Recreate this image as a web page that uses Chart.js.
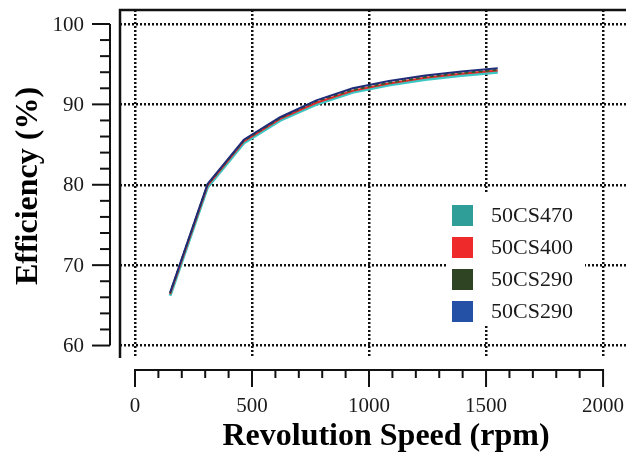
<!DOCTYPE html>
<html>
<head>
<meta charset="utf-8">
<script src="https://cdn.jsdelivr.net/npm/chart.js@4"></script>
<style>
  body { margin: 0; background: #fff; }
  canvas { display: block; }
</style>
</head>
<body>
<canvas id="chart" width="626" height="459"></canvas>
<script>
const rpm = [150, 310, 465, 620, 775, 930, 1085, 1240, 1395, 1550];
const eff470 = [66.2, 79.7, 85.2, 88.0, 90.0, 91.5, 92.4, 93.1, 93.6, 94.0];
const eff400 = [66.4, 79.9, 85.4, 88.2, 90.2, 91.7, 92.6, 93.3, 93.8, 94.2];
const eff290a = [66.5, 80.0, 85.5, 88.3, 90.4, 91.8, 92.7, 93.4, 93.9, 94.3];
const eff290b = [66.6, 80.1, 85.6, 88.4, 90.5, 92.0, 92.9, 93.6, 94.1, 94.5];

const seriesNames = ["50CS470", "50CS400", "50CS290", "50CS290"];
const boxColors = ["#2f9d98", "#ee2a2a", "#2e4422", "#2450a6"];
const lineColors = ["#3cc6c4", "#e8262a", "#3a5a22", "#1f2c78"];

const xTicks = [0, 500, 1000, 1500, 2000];
const yTicks = [60, 70, 80, 90, 100];

const serif = '"Liberation Serif", "Times New Roman", serif';

const toPoints = (vals) => vals.map((v, i) => ({ x: rpm[i], y: v }));

// axes, frame, titles and legend are drawn by hand to get the detached look
const decorations = {
    id: 'decorations',
    afterDraw(chart) {
        const { ctx, chartArea: a, scales: { x, y } } = chart;
        ctx.save();
        ctx.strokeStyle = '#111';
        ctx.fillStyle = '#1a1a1a';
        ctx.lineWidth = 2;

        // frame (left + top)
        ctx.lineWidth = 2.5;
        ctx.beginPath();
        ctx.moveTo(a.left, a.bottom);
        ctx.lineTo(a.left, a.top);
        ctx.lineTo(a.right, a.top);
        ctx.stroke();
        ctx.lineWidth = 2;

        // y axis
        const yx = a.left - 10;
        ctx.beginPath();
        ctx.moveTo(yx, y.getPixelForValue(100));
        ctx.lineTo(yx, y.getPixelForValue(60));
        ctx.stroke();
        for (let v = 60; v <= 100; v += 2) {
            const py = y.getPixelForValue(v);
            const len = v % 10 === 0 ? 18 : 10;
            ctx.beginPath();
            ctx.moveTo(yx - len, py);
            ctx.lineTo(yx, py);
            ctx.stroke();
        }
        ctx.font = '21px ' + serif;
        ctx.textAlign = 'right';
        ctx.textBaseline = 'middle';
        for (let v of yTicks) {
            ctx.fillText(String(v), yx - 26, y.getPixelForValue(v) + 1);
        }

        // x axis
        const xy = 370;
        ctx.beginPath();
        ctx.moveTo(x.getPixelForValue(0), xy);
        ctx.lineTo(x.getPixelForValue(2000), xy);
        ctx.stroke();
        for (let v = 0; v <= 2000; v += 100) {
            const px = x.getPixelForValue(v);
            const len = v % 500 === 0 ? 17 : 8;
            ctx.beginPath();
            ctx.moveTo(px, xy - 1);
            ctx.lineTo(px, xy + len);
            ctx.stroke();
        }
        ctx.textAlign = 'center';
        for (let v of xTicks) {
            ctx.fillText(String(v), x.getPixelForValue(v), 406);
        }

        // axis titles
        ctx.fillStyle = '#000';
        ctx.font = 'bold 32px ' + serif;
        ctx.fillText('Revolution Speed (rpm)', 386, 437);
        ctx.save();
        ctx.translate(29, 186);
        ctx.rotate(-Math.PI / 2);
        ctx.fillText('Efficiency (%)', 0, 0);
        ctx.restore();

        // legend
        ctx.fillStyle = '#fff';
        ctx.fillRect(447, 193, 138, 132);
        ctx.font = '22px ' + serif;
        ctx.textAlign = 'left';
        seriesNames.forEach((name, i) => {
            const cy = 215 + i * 32;
            ctx.fillStyle = boxColors[i];
            ctx.fillRect(452, cy - 10, 21, 21);
            ctx.fillStyle = '#1a1a1a';
            ctx.fillText(name, 491, cy + 1);
        });
        ctx.restore();
    }
};

const gridOpts = { color: '#111', lineWidth: 2.5, drawTicks: false };

new Chart(document.getElementById('chart'), {
    type: 'line',
    data: {
        datasets: [eff470, eff400, eff290a, eff290b].map((vals, i) => ({
            label: seriesNames[i],
            data: toPoints(vals),
            borderColor: lineColors[i],
            borderWidth: i === 0 ? 3 : 2,
            borderDash: i === 2 ? [4, 3] : [],
            pointRadius: 0,
            tension: 0,
            fill: false,
            order: 4 - i
        }))
    },
    options: {
        responsive: false,
        animation: false,
        devicePixelRatio: 1,
        layout: { padding: { left: 120, top: 10, right: 0, bottom: 101 } },
        plugins: { legend: { display: false }, tooltip: { enabled: false } },
        scales: {
            x: {
                type: 'linear',
                min: -64,
                max: 2098,
                afterBuildTicks: (s) => { s.ticks = xTicks.map(v => ({ value: v })); },
                ticks: { display: false },
                grid: gridOpts,
                border: { display: false, dash: [2, 2] }
            },
            y: {
                min: 58.45,
                max: 101.74,
                afterBuildTicks: (s) => { s.ticks = yTicks.map(v => ({ value: v })); },
                ticks: { display: false },
                grid: gridOpts,
                border: { display: false, dash: [2, 2] }
            }
        }
    },
    plugins: [decorations]
});
</script>
</body>
</html>
